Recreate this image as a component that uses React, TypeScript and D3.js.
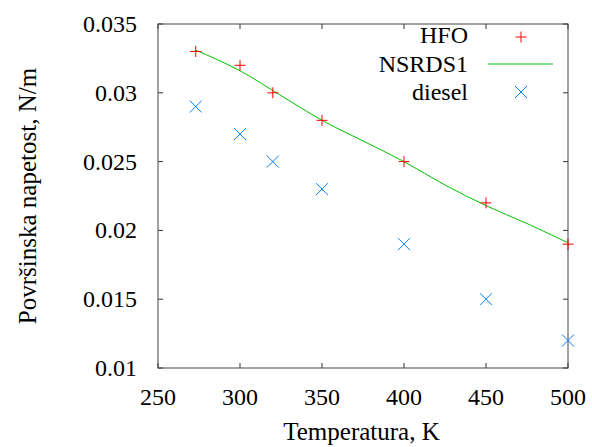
import React from "react";
import * as d3 from "d3";

const temps = [273, 300, 320, 350, 400, 450, 500];
const hfo = [0.033, 0.032, 0.03, 0.028, 0.025, 0.022, 0.019];
const diesel = [0.029, 0.027, 0.025, 0.023, 0.019, 0.015, 0.012];
const nsrdsT = [273, 300, 325, 350, 375, 400, 425, 450, 475, 500];
const nsrdsV = [0.0331, 0.0316, 0.0298, 0.028, 0.0265, 0.025, 0.0233, 0.0218, 0.0205, 0.0191];
const xTicks = [250, 300, 350, 400, 450, 500];
const yTicks = [0.01, 0.015, 0.02, 0.025, 0.03, 0.035];
const legendLabels = ["HFO", "NSRDS1", "diesel"];

const W = 592, H = 447;
const L = 158, R = 568, T = 24, B = 368;
const FONT = "Liberation Serif, Tinos, Times New Roman, DejaVu Serif, serif";
const FS = 24;
const RED = "#ff0000", GREEN = "#00c000", BLUE = "#0080ff";

export default function App() {
  const x = d3.scaleLinear().domain([250, 500]).range([L, R]);
  const y = d3.scaleLinear().domain([0.01, 0.035]).range([B, T]);
  const line = d3.line<number>().x((_, i) => x(nsrdsT[i])).y((d) => y(d)).curve(d3.curveMonotoneX);
  const plus = (cx: number, cy: number, k: string) => (
    <path key={k} d={`M${cx - 5.5},${cy}H${cx + 5.5}M${cx},${cy - 5.5}V${cy + 5.5}`} stroke={RED} strokeWidth={1} fill="none" />
  );
  const cross = (cx: number, cy: number, k: string) => (
    <path key={k} d={`M${cx - 6},${cy - 6}L${cx + 6},${cy + 6}M${cx - 6},${cy + 6}L${cx + 6},${cy - 6}`} stroke={BLUE} strokeWidth={1} fill="none" />
  );
  const tickLen = 5;
  const legX = 468;
  const legY = [43, 72, 100];
  const ts = { fontFamily: FONT, fontSize: FS } as React.CSSProperties;
  const tt = { fontFamily: FONT, fontSize: 25 } as React.CSSProperties;
  return (
    <svg width={W} height={H} style={{ position: "absolute", left: 0, top: 0 }}>
      <rect width={W} height={H} fill="#fff" />
      {xTicks.map((t) => (
        <g key={"x" + t}>
          <line x1={x(t)} x2={x(t)} y1={B} y2={B - tickLen} stroke="#333" />
          <line x1={x(t)} x2={x(t)} y1={T} y2={T + tickLen} stroke="#333" />
          <text style={ts} x={x(t)} y={405} textAnchor="middle">{t}</text>
        </g>
      ))}
      {yTicks.map((t) => (
        <g key={"y" + t}>
          <line x1={L} x2={L + tickLen} y1={y(t)} y2={y(t)} stroke="#333" />
          <line x1={R} x2={R - tickLen} y1={y(t)} y2={y(t)} stroke="#333" />
          <text style={ts} x={137} y={y(t) + 8} textAnchor="end">{String(t)}</text>
        </g>
      ))}
      <rect x={L} y={T} width={R - L} height={B - T} fill="none" stroke="#444" strokeWidth={1} />
      <text style={tt} x={361.5} y={440} textAnchor="middle">Temperatura, K</text>
      <text style={tt} transform={`translate(36,${(T + B) / 2}) rotate(-90)`} textAnchor="middle">Površinska napetost, N/m</text>
      <path d={line(nsrdsV) || ""} stroke={GREEN} strokeWidth={1} fill="none" />
      {hfo.map((v, i) => plus(x(temps[i]), y(v), "h" + i))}
      {diesel.map((v, i) => cross(x(temps[i]), y(v), "d" + i))}
      {legendLabels.map((s, i) => (
        <text style={ts} key={s} x={legX} y={legY[i]} textAnchor="end">{s}</text>
      ))}
      {plus(521, 37, "lh")}
      <line x1={488} x2={553} y1={64} y2={64} stroke={GREEN} strokeWidth={1} />
      {cross(521, 92, "ld")}
    </svg>
  );
}
